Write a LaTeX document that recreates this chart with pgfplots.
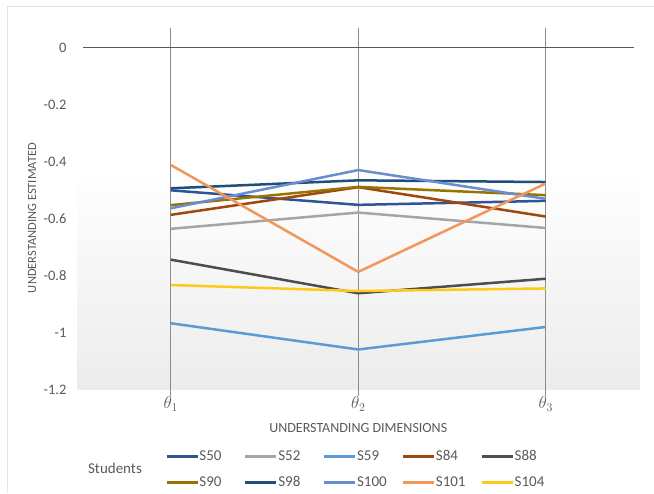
\documentclass[border=0pt]{standalone}
\usepackage{pgfplots}
\pgfplotsset{compat=1.18}
\usepackage{fontspec}
\setmainfont{Carlito}
\definecolor{txt}{HTML}{595959}
\definecolor{cA}{HTML}{2F5597}
\definecolor{cB}{HTML}{A5A5A5}
\definecolor{cC}{HTML}{5B9BD5}
\definecolor{cD}{HTML}{9E480E}
\definecolor{cE}{HTML}{4D4D4D}
\definecolor{cF}{HTML}{997300}
\definecolor{cG}{HTML}{1F4E79}
\definecolor{cH}{HTML}{698ED0}
\definecolor{cI}{HTML}{F1975A}
\definecolor{cJ}{HTML}{FFC91A}
\begin{document}
\begin{tikzpicture}
\path[use as bounding box] (0,0) rectangle (654bp,494bp);
\draw[color={rgb,255:red,228;green,228;blue,228}, line width=0.8bp] (7bp,1bp) -- (7bp,488bp) -- (654bp,488bp);
\begin{axis}[
  at={(77bp,104bp)}, anchor=south west,
  scale only axis, width=562.5bp, height=362bp,
  xmin=-0.5, xmax=2.5, ymin=-1.2, ymax=0.069,
  axis line style={draw=none},
  clip=false,
  xtick={0,1,2},
  xticklabels={$\theta_1$,$\theta_2$,$\theta_3$},
  ytick={-1.2,-1,-0.8,-0.6,-0.4,-0.2,0},
  yticklabels={-1.2,-1,-0.8,-0.6,-0.4,-0.2,0},
  ytick pos=left, xtick pos=bottom,
  ytick style={draw=none}, xtick style={draw=none},
  yticklabel style={font=\fontsize{14.5bp}{16bp}\selectfont, text=txt, xshift=-7bp},
  xticklabel style={font=\fontsize{18bp}{20bp}\selectfont, text=txt, yshift=-3bp},
  xlabel={UNDERSTANDING DIMENSIONS},
  ylabel={UNDERSTANDING ESTIMATED},
  xlabel style={at={(axis description cs:0.5,-0.105)}, anchor=center, font=\fontsize{14bp}{16bp}\selectfont, text=txt},
  ylabel style={at={(axis description cs:-0.08,0.475)}, anchor=center, font=\fontsize{12.5bp}{14bp}\selectfont, text=txt},
  legend columns=5,
  legend style={at={(axis description cs:0.1564,-0.163)}, anchor=north west, draw=none, fill=none, inner sep=0pt,
    font=\fontsize{15bp}{17bp}\selectfont, text=txt,
    nodes={inner sep=0.5bp, text height=10.5bp, text depth=3bp, text width=44bp, align=left},
    row sep=11.5bp, column sep=0bp, cells={anchor=west}},
  legend image code/.code={\draw[#1, line width=2.8bp] (0bp,0bp) -- (31bp,0bp);},
  every axis plot/.append style={line width=2.5bp, mark=none},
]
\shade[top color=white, bottom color={rgb,255:red,236;green,236;blue,236}] (axis cs:-0.5,-0.42) rectangle (axis cs:2.5,-1.2);
\draw[color={rgb,255:red,140;green,140;blue,140}, line width=0.8bp] (axis cs:0,0.069) -- (axis cs:0,-1.22);
\draw[color={rgb,255:red,140;green,140;blue,140}, line width=0.8bp] (axis cs:1,0.069) -- (axis cs:1,-1.22);
\draw[color={rgb,255:red,140;green,140;blue,140}, line width=0.8bp] (axis cs:2,0.069) -- (axis cs:2,-1.22);
\draw[color=txt, line width=0.9bp] (axis cs:-0.469,0) -- (axis cs:2.469,0);
\addplot[cA] coordinates {(0,-0.500) (1,-0.551) (2,-0.537)};
\addlegendentry{S50}
\addplot[cB] coordinates {(0,-0.635) (1,-0.578) (2,-0.632)};
\addlegendentry{S52}
\addplot[cC] coordinates {(0,-0.966) (1,-1.058) (2,-0.979)};
\addlegendentry{S59}
\addplot[cD] coordinates {(0,-0.586) (1,-0.489) (2,-0.592)};
\addlegendentry{S84}
\addplot[cE] coordinates {(0,-0.743) (1,-0.861) (2,-0.810)};
\addlegendentry{S88}
\addplot[cF] coordinates {(0,-0.552) (1,-0.488) (2,-0.517)};
\addlegendentry{S90}
\addplot[cG] coordinates {(0,-0.493) (1,-0.465) (2,-0.471)};
\addlegendentry{S98}
\addplot[cH] coordinates {(0,-0.563) (1,-0.429) (2,-0.530)};
\addlegendentry{S100}
\addplot[cI] coordinates {(0,-0.411) (1,-0.786) (2,-0.476)};
\addlegendentry{S101}
\addplot[cJ] coordinates {(0,-0.832) (1,-0.853) (2,-0.844)};
\addlegendentry{S104}
\end{axis}
\node[font=\fontsize{15bp}{17bp}\selectfont, text=txt] at (115bp,26bp) {Students};
\end{tikzpicture}
\end{document}
